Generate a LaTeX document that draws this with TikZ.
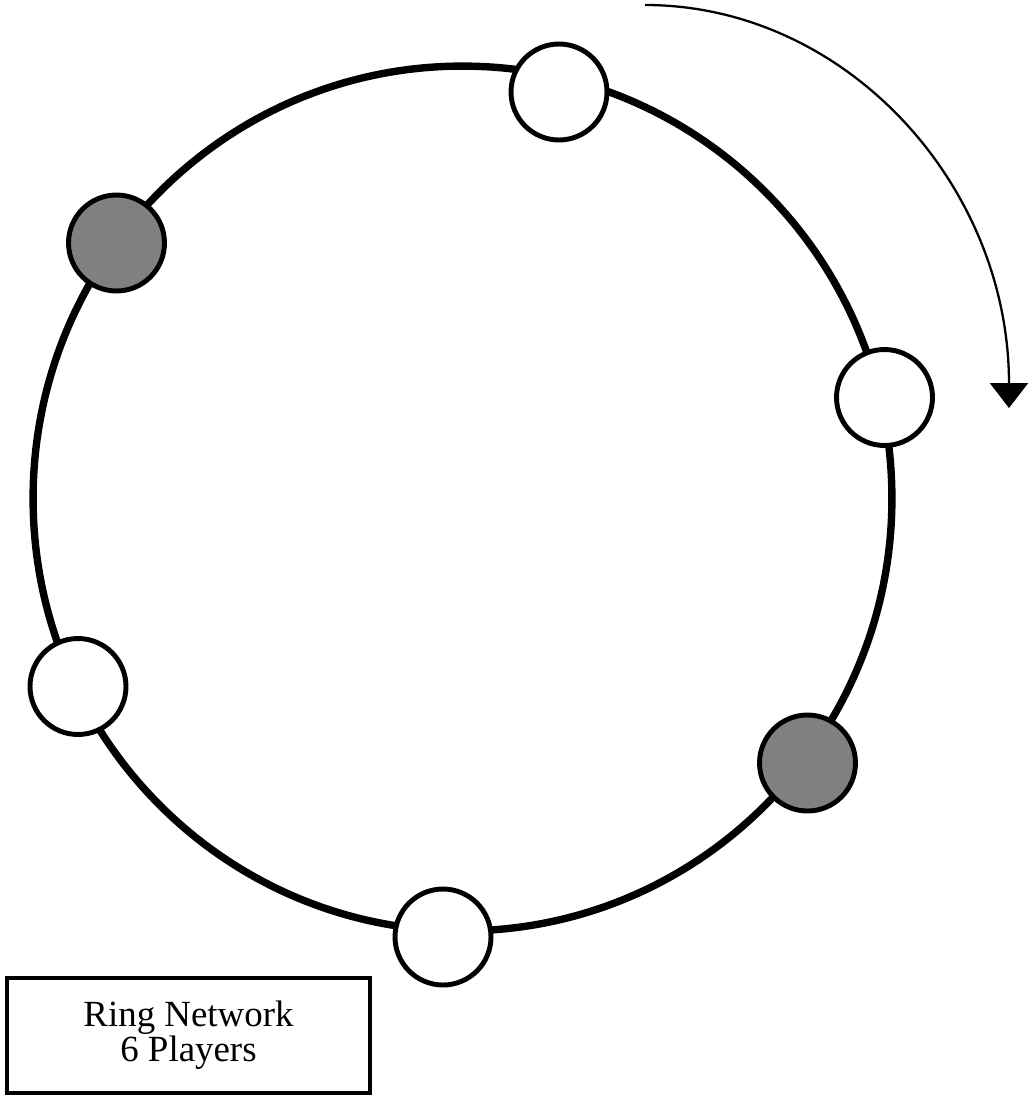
\documentclass[tikz,border=0pt]{standalone}
\usepackage{fontspec}
\setmainfont{Liberation Serif}
\usetikzlibrary{positioning,arrows.meta}

\begin{document}
\begin{tikzpicture}[
  x=0.02cm, y=-0.02cm,
  every node/.style={font=\fontsize{21}{17.5}\selectfont},
  player/.style={circle,draw,line width=2.8pt,fill=white,minimum size=1.92cm,inner sep=0pt},
  active/.style={player,fill=gray},
  ring/.style={line width=4.2pt},
  label/.style={rectangle,draw,line width=2.8pt,minimum width=7.26cm,minimum height=2.3cm,align=center},
  >={Triangle[width=0.76cm,length=0.5cm]}
]
\useasboundingbox (0,0) rectangle (1029,1099);

% RING
\coordinate (C) at (462.5,498.5);
\draw[ring] (C) ellipse [x radius=8.59cm, y radius=8.65cm];

% PLAYERS
\node[player] (P1) at (559,92)    {};
\node[player] (P2) at (884.5,397.5) {};
\node[active] (P3) at (807.5,763) {};
\node[player] (P4) at (443,937)   {};
\node[player] (P5) at (78,686.5)  {};
\node[active] (P6) at (116.5,243) {};

% DIRECTION
\coordinate (R0) at (645,5);
\coordinate (R1) at (1009,408);
\draw[->,line width=1.3pt] (R0) .. controls (846,5) and (1009,185) .. (R1);

% LABEL
\node[label] (L) at (188.5,1035.5) {Ring Network\\6 Players};

\end{tikzpicture}
\end{document}
